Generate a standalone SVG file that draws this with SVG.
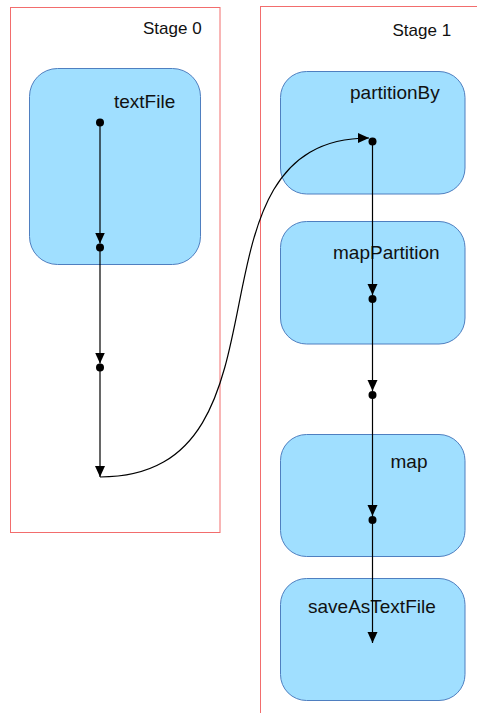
<svg xmlns="http://www.w3.org/2000/svg" width="477" height="713" viewBox="0 0 477 713">
<style>
.stage{fill:none;stroke:#f26d6d;stroke-width:1}
.op{fill:#a0dfff;stroke:#4f7fc0;stroke-width:1}
.lbl{font-family:"Liberation Sans",Arial,sans-serif;fill:#111}
.st{font-size:17px}
.nd{font-size:19px}
.edge{fill:none;stroke:#000;stroke-width:1.2}
.dot{fill:#000}
</style>
<defs>
<marker id="arr" viewBox="0 0 11 12" refX="11" refY="6" markerWidth="11" markerHeight="12" markerUnits="userSpaceOnUse" orient="auto">
<path d="M0,1 L11,6 L0,11 Z" fill="#000"/>
</marker>
</defs>
<rect width="477" height="713" fill="#fff"/>
<g id="stage0">
<rect class="stage" x="10.5" y="7.5" width="209.5" height="525"/>
<text class="lbl st" x="143" y="34">Stage 0</text>
</g>
<g id="stage1">
<rect class="stage" x="260.5" y="6.5" width="240" height="730"/>
<text class="lbl st" x="392.5" y="36">Stage 1</text>
</g>
<g id="textFile">
<rect class="op" x="29.5" y="68.5" width="171" height="196" rx="28" ry="28"/>
<text class="lbl nd" x="114" y="108">textFile</text>
</g>
<g id="partitionBy">
<rect class="op" x="280.5" y="71.5" width="184.5" height="122.5" rx="26" ry="26"/>
<text class="lbl nd" x="350" y="99">partitionBy</text>
</g>
<g id="mapPartition">
<rect class="op" x="280.5" y="221.5" width="184.5" height="122.5" rx="26" ry="26"/>
<text class="lbl nd" x="333" y="259">mapPartition</text>
</g>
<g id="map">
<rect class="op" x="280.5" y="434.5" width="184.5" height="122" rx="26" ry="26"/>
<text class="lbl nd" x="390.5" y="468">map</text>
</g>
<g id="saveAsTextFile">
<rect class="op" x="280.5" y="578.5" width="184.5" height="122" rx="26" ry="26"/>
<text class="lbl nd" x="308" y="613">saveAsTextFile</text>
</g>
<g id="connectors">
<path class="edge" d="M100,122 L100,243.5" marker-end="url(#arr)"/>
<path class="edge" d="M100,247 L100,363.5" marker-end="url(#arr)"/>
<path class="edge" d="M100,367 L100,477" marker-end="url(#arr)"/>
<path class="edge" d="M100,477 C307,477 172,138 369,138" marker-end="url(#arr)"/>
<path class="edge" d="M372.5,141 L372.5,295" marker-end="url(#arr)"/>
<path class="edge" d="M372.5,299 L372.5,391" marker-end="url(#arr)"/>
<path class="edge" d="M372.5,395 L372.5,516" marker-end="url(#arr)"/>
<path class="edge" d="M372.5,520 L372.5,643" marker-end="url(#arr)"/>
<circle class="dot" cx="100" cy="122.5" r="4"/>
<circle class="dot" cx="100" cy="247.5" r="4"/>
<circle class="dot" cx="100" cy="367.5" r="4"/>
<circle class="dot" cx="372.5" cy="141.5" r="4"/>
<circle class="dot" cx="372.5" cy="299" r="4"/>
<circle class="dot" cx="372.5" cy="395" r="4"/>
<circle class="dot" cx="372.5" cy="520" r="4"/>
</g>
</svg>
